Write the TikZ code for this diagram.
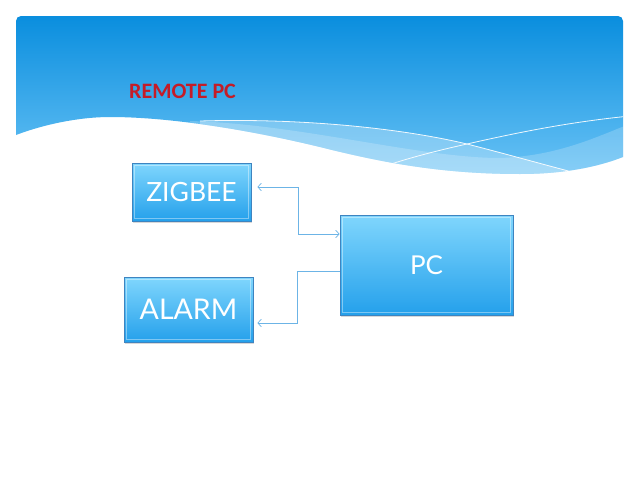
\documentclass[tikz,border=0pt]{standalone}
\usepackage{fontspec}
\setmainfont{Lato}
\newfontfamily\titlefont{Carlito}
\usetikzlibrary{arrows.meta,shadows}
\definecolor{bTop}{RGB}{10,142,222}
\definecolor{bBot}{RGB}{104,194,245}
\definecolor{boxTop}{RGB}{128,214,253}
\definecolor{boxBot}{RGB}{36,160,235}
\definecolor{boxEdge}{RGB}{62,132,192}
\definecolor{connCol}{RGB}{108,180,230}
\definecolor{titleRed}{RGB}{196,28,40}
\tikzset{
  blockbox/.style={draw=boxEdge, line width=0.7pt, top color=boxTop, bottom color=boxBot,
    text=white, inner sep=0pt,
    drop shadow={shadow xshift=1.2pt, shadow yshift=-1.5pt, opacity=0.3},
    path picture={\draw[white,opacity=0.4,line width=1.6pt]
      ([xshift=2.6pt,yshift=-2.6pt]path picture bounding box.north west) rectangle
      ([xshift=-2.6pt,yshift=2.6pt]path picture bounding box.south east);}},
  conn/.style={draw=connCol, line width=0.7pt},
  barb/.tip={Straight Barb[length=3.5pt,width=7.5pt,line width=0.7pt]},
  waveline/.style={draw=white, line width=0.8pt, opacity=0.9}
}
\def\bannerpath{(16,135) -- (16,21) arc[start angle=180,end angle=270,radius=5] -- (618,16)
  arc[start angle=270,end angle=360,radius=5] -- (623,157)
  .. controls (595,168) and (560,174) .. (520,174)
  .. controls (440,174) and (380,162) .. (320,147)
  .. controls (250,130) and (170,117) .. (110,117)
  .. controls (80,117) and (45,124) .. (16,135) -- cycle}
\begin{document}
\begin{tikzpicture}[x=1pt,y=-1pt]
\useasboundingbox (0,0) rectangle (638,479);
\fill[white] (0,0) rectangle (638,479);
% banner
\path[top color=bTop,bottom color=bBot] \bannerpath;
\begin{scope}
  \clip \bannerpath;
  \fill[white,opacity=0.28] (200,121) .. controls (300,118) and (400,128) .. (467,144)
    .. controls (510,155) and (545,165) .. (580,174) -- (580,200) -- (200,200) -- cycle;
  \fill[white,opacity=0.2] (190,121) .. controls (300,124) and (420,158) .. (500,158)
    .. controls (560,156) and (600,135) .. (630,124) -- (630,200) -- (190,200) -- cycle;
  \path[waveline] (200,121) .. controls (300,118) and (400,128) .. (467,144)
    .. controls (510,155) and (545,165) .. (580,174);
  \path[waveline] (385,166) .. controls (412,157) and (440,150) .. (467,144)
    .. controls (520,132) and (570,122) .. (630,116);
\end{scope}
% title
\node[anchor=base west, inner sep=0pt, text=titleRed, font=\titlefont\bfseries\fontsize{22}{25}\selectfont]
  (title) at (129,98) {REMOTE PC};
% blocks
\node[blockbox, minimum width=119pt, minimum height=58pt, font=\fontsize{26.5}{30}\selectfont]
  (zig) at (191.5,192) {ZIGBEE};
\node[blockbox, minimum width=129pt, minimum height=65pt, font=\fontsize{28.5}{32}\selectfont]
  (al) at (188.5,309.5) {ALARM};
\node[blockbox, minimum width=173pt, minimum height=100pt, font=\fontsize{26}{30}\selectfont]
  (pc) at (426.5,265) {PC};
% connectors
\draw[conn, barb-barb] ([xshift=6pt,yshift=5pt]zig.east) -- ++(41pt,0) |- ([yshift=31pt]pc.west);
\draw[conn, -barb] ([yshift=-6pt]pc.west) -- ++(-42pt,0) |- ([xshift=4pt,yshift=-13.5pt]al.east);
\end{tikzpicture}
\end{document}
